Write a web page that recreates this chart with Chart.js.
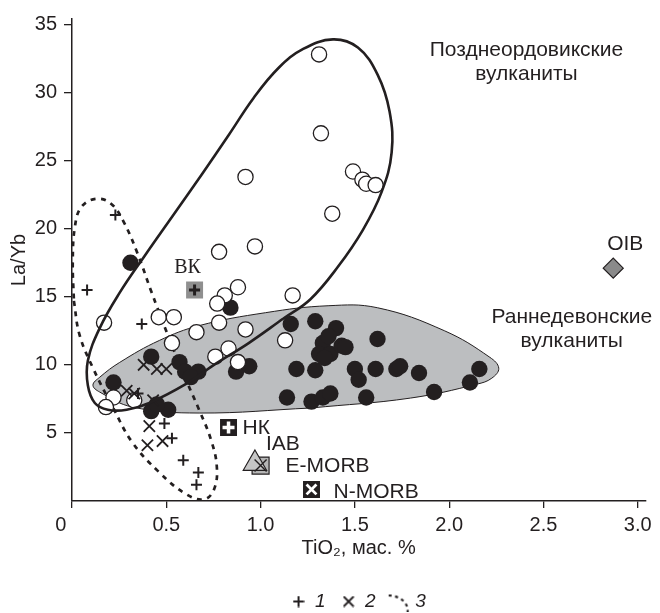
<!DOCTYPE html>
<html>
<head>
<meta charset="utf-8">
<script src="https://cdn.jsdelivr.net/npm/chart.js@4.4.0/dist/chart.umd.min.js"></script>
<style>
  html, body { margin: 0; padding: 0; background: #fff; }
  #wrap { width: 660px; height: 613px; position: relative; }
</style>
</head>
<body>
<div id="wrap"><canvas id="chart"></canvas></div>
<script>
// La/Yb vs TiO2 plot for the volcanics
const ink = '#231f20';

// open circles - Late Ordovician volcanics
const ordTi = [1.31, 1.32, 0.92, 1.49, 1.54, 1.56, 1.61, 1.38, 0.97, 0.78, 0.88, 0.81, 0.77, 1.17,
  0.78, 0.66, 0.46, 0.54, 0.17, 0.53, 0.92, 0.83, 0.76, 0.88, 1.13, 0.22, 0.18, 0.33];
const ordLaYb = [32.8, 27.0, 23.8, 24.2, 23.6, 23.3, 23.2, 21.1, 18.7, 18.3, 15.7, 15.1, 14.5, 15.1,
  13.1, 12.4, 13.5, 13.5, 13.1, 11.6, 12.6, 11.2, 10.6, 10.2, 11.8, 7.6, 6.9, 7.4];

// filled circles - Early Devonian volcanics
const devTi = [0.31, 0.84, 0.42, 0.57, 0.60, 0.67, 0.63, 0.22, 0.42, 0.51, 0.45, 0.87, 0.94, 1.16,
  1.29, 1.40, 1.33, 1.31, 1.37, 1.43, 1.36, 1.19, 1.29, 1.34, 1.62, 1.45, 1.50, 1.52, 1.61, 1.72,
  1.74, 1.84, 1.92, 2.11, 2.16, 1.14, 1.27, 1.33, 1.37, 1.56];
const devLaYb = [17.5, 14.2, 10.6, 10.2, 9.5, 9.5, 9.1, 8.7, 6.6, 6.7, 7.1, 9.5, 9.9, 13.0,
  13.2, 12.7, 11.6, 10.8, 10.8, 11.4, 12.1, 9.7, 9.6, 10.5, 11.9, 11.3, 9.7, 8.9, 9.7, 9.7,
  9.9, 9.4, 8.0, 8.7, 9.7, 7.6, 7.3, 7.6, 7.9, 7.6];

// group 1 (+)
const plusTi = [0.23, 0.08, 0.37, 0.35, 0.49, 0.53, 0.59, 0.67, 0.66];
const plusLaYb = [21.0, 15.5, 13.0, 7.9, 5.7, 4.6, 3.0, 2.1, 1.2];

// group 2 (x)
const xTi = [0.38, 0.45, 0.50, 0.29, 0.33, 0.43, 0.41, 0.40, 0.48];
const xLaYb = [10.0, 9.7, 9.7, 8.1, 7.9, 7.4, 5.5, 4.1, 4.4];

// reference compositions
const refNames = ['ВК', 'НК', 'E-MORB', 'IAB', 'N-MORB', 'OIB'];
const refTi = [0.65, 0.83, 1.0, 0.97, 1.27, 2.87];
const refLaYb = [15.5, 5.4, 2.6, 2.75, 0.85, 17.1];

// field outlines
const ordFieldTi = [1.121, 0.937, 0.753, 0.605, 0.41, 0.29, 0.19, 0.121, 0.084, 0.084, 0.147, 0.253,
  0.384, 0.542, 0.689, 0.832, 0.963, 1.095, 1.226, 1.384, 1.516, 1.621, 1.684, 1.695, 1.642, 1.542,
  1.41, 1.263];
const ordFieldLaYb = [13.4, 11.6, 10.0, 8.6, 7.2, 6.7, 6.7, 7.2, 8.5, 10.3, 12.7, 15.3,
  17.98, 21.1, 24.0, 26.9, 29.6, 31.8, 33.2, 33.9, 33.3, 31.3, 28.6, 25.6, 22.7, 19.9,
  17.2, 14.8];

const devFieldTi = [1.268, 0.674, 0.321, 0.147, 0.111, 0.147, 0.253, 0.463, 0.674, 1.026, 1.358,
  1.621, 1.974, 2.216, 2.263, 2.226, 2.147, 1.795];
const devFieldLaYb = [6.83, 6.46, 6.90, 8.0, 8.51, 9.09, 10.18, 11.79, 12.88, 13.83, 14.34,
  14.19, 12.51, 10.55, 9.75, 9.02, 8.58, 7.56];

const field3Ti = [0.01, 0.04, 0.11, 0.216, 0.32, 0.463, 0.605, 0.70, 0.753, 0.768, 0.737, 0.674,
  0.595, 0.505, 0.42, 0.347, 0.274, 0.21, 0.13, 0.05, 0.016, 0.004];
const field3LaYb = [14.7, 12.2, 9.8, 6.9, 4.3, 2.1, 0.5, 0.12, 0.85, 2.5, 4.5, 6.7,
  9.2, 12.3, 15.4, 18.2, 20.5, 21.8, 22.2, 21.6, 20.2, 17.6];

// axes
const xTicks = [0, 0.5, 1, 1.5, 2, 2.5, 3];
const yTicks = [5, 10, 15, 20, 25, 30, 35];
const legendTexts = ['1', '2', '3'];

const pts = (xs, ys) => xs.map((v, i) => ({ x: v, y: ys[i] }));
const loop = (xs, ys) => { const p = pts(xs, ys); return p.concat([p[0]]); };

Chart.defaults.font.family = "'Liberation Sans', Arial, sans-serif";
Chart.defaults.font.size = 20;
Chart.defaults.color = ink;

// small canvases used as legend symbols
function icon(w, h, draw) {
  const c = document.createElement('canvas');
  c.width = w; c.height = h;
  const g = c.getContext('2d');
  g.strokeStyle = ink;
  draw(g);
  return c;
}
const legendIcons = [
  icon(12, 12, g => { g.lineWidth = 2; g.beginPath(); g.moveTo(6, 0.5); g.lineTo(6, 11.5); g.moveTo(0.5, 6); g.lineTo(11.5, 6); g.stroke(); }),
  icon(12, 12, g => { g.lineWidth = 1.8; g.beginPath(); g.moveTo(1, 1); g.lineTo(11, 11); g.moveTo(11, 1); g.lineTo(1, 11); g.stroke(); }),
  icon(26, 20, g => { g.lineWidth = 2.2; g.setLineDash([3, 3.5]); g.beginPath(); g.ellipse(3, 19, 19, 15, 0, -Math.PI / 2, 0.15); g.stroke(); })
];

// marker looks for the reference compositions
const refStyle = ['rect', 'rect', 'rect', 'triangle', 'rect', 'rectRot'];
const refFill = ['#8f8f8f', ink, '#b5b5b5', '#c6c6c6', ink, '#8a8a8a'];
const refEdge = ['#8f8f8f', ink, ink, ink, ink, ink];
const refEdgeW = [0, 0, 1.2, 1.2, 0, 1.2];
const refSize = [12, 12, 12, 13.5, 12, 10];
const glyphStyle = ['cross', 'cross', 'crossRot', 'circle', 'crossRot', 'circle'];
const glyphColor = [ink, '#fff', ink, ink, '#fff', ink];
const glyphSize = [5.5, 6, 8.5, 0, 7, 0];
const glyphW = [3, 3.5, 1.4, 0, 2.8, 0];

// label placement relative to each marker: dx, dy, align, font
const sans21 = "21px 'Liberation Sans', Arial, sans-serif";
const refLabelPos = [
  [-7, -22, 'center', "20px 'Liberation Serif', 'Times New Roman', serif"],
  [14, 1, 'left', sans21],
  [25, 1, 'left', sans21],
  [11, -19, 'left', sans21],
  [22, 3, 'left', sans21],
  [12, -24, 'center', sans21]
];

const fieldNotes = [
  { x: 2.41, y: 33.1, lines: ['Позднеордовикские', 'вулканиты'] },
  { x: 2.65, y: 13.5, lines: ['Раннедевонские', 'вулканиты'] }
];

const notes = {
  id: 'notes',
  afterDatasetsDraw(chart) {
    const { ctx, scales: { x, y } } = chart;
    ctx.save();
    ctx.fillStyle = ink;
    ctx.textBaseline = 'middle';
    refNames.forEach((name, i) => {
      const [dx, dy, align, font] = refLabelPos[i];
      ctx.font = font;
      ctx.textAlign = align;
      ctx.fillText(name, x.getPixelForValue(refTi[i]) + dx, y.getPixelForValue(refLaYb[i]) + dy);
    });
    ctx.font = sans21;
    ctx.textAlign = 'center';
    fieldNotes.forEach(n => {
      n.lines.forEach((t, k) => {
        ctx.fillText(t, x.getPixelForValue(n.x), y.getPixelForValue(n.y) + k * 24);
      });
    });
    ctx.restore();
  }
};

new Chart(document.getElementById('chart'), {
  type: 'scatter',
  data: {
    datasets: [
      {
        label: 'devField',
        data: loop(devFieldTi, devFieldLaYb),
        showLine: true, tension: 0.4, pointRadius: 0,
        borderColor: ink, borderWidth: 1,
        backgroundColor: '#bcbec0', fill: 'shape',
        order: 10
      },
      {
        label: 'field3',
        data: loop(field3Ti, field3LaYb),
        showLine: true, tension: 0.4, pointRadius: 0,
        borderColor: ink, borderWidth: 2.7, borderDash: [5, 5.5],
        fill: false,
        order: 9
      },
      {
        label: 'dev',
        data: pts(devTi, devLaYb),
        pointStyle: 'circle', pointRadius: 8.2,
        pointBackgroundColor: ink, pointBorderColor: ink, pointBorderWidth: 0,
        order: 6
      },
      {
        label: 'ord',
        data: pts(ordTi, ordLaYb),
        pointStyle: 'circle', pointRadius: 7.6,
        pointBackgroundColor: '#fff', pointBorderColor: ink, pointBorderWidth: 1.3,
        order: 5
      },
      {
        label: '1',
        data: pts(plusTi, plusLaYb),
        pointStyle: 'cross', pointRadius: 5.5,
        pointBorderColor: ink, pointBorderWidth: 2,
        order: 4
      },
      {
        label: '2',
        data: pts(xTi, xLaYb),
        pointStyle: 'crossRot', pointRadius: 8,
        pointBorderColor: ink, pointBorderWidth: 1.8,
        order: 4
      },
      {
        label: 'ordField',
        data: loop(ordFieldTi, ordFieldLaYb),
        showLine: true, tension: 0.4, pointRadius: 0,
        borderColor: ink, borderWidth: 2.6,
        fill: false,
        order: 3
      },
      {
        label: 'refs',
        data: pts(refTi, refLaYb),
        pointStyle: refStyle, pointRadius: refSize,
        pointBackgroundColor: refFill, pointBorderColor: refEdge, pointBorderWidth: refEdgeW,
        order: 2
      },
      {
        label: 'refGlyphs',
        data: pts(refTi, refLaYb),
        pointStyle: glyphStyle, pointRadius: glyphSize,
        pointBackgroundColor: glyphColor, pointBorderColor: glyphColor, pointBorderWidth: glyphW,
        order: 1
      }
    ]
  },
  options: {
    responsive: true,
    maintainAspectRatio: false,
    animation: false,
    events: [],
    layout: { padding: { left: 0, right: 10, top: 15, bottom: 0 } },
    scales: {
      x: {
        type: 'linear', min: 0, max: 3.04,
        afterBuildTicks: s => { s.ticks = xTicks.map(v => ({ value: v })); },
        afterFit: s => { s.height = 75; },
        ticks: {
          autoSkip: false, maxRotation: 0, padding: 5,
          callback: v => (v === 0 ? '0    ' : v.toFixed(1))
        },
        grid: { drawOnChartArea: false, drawTicks: true, tickLength: 7, color: ink, lineWidth: 1.3 },
        border: { display: true, color: ink, width: 1.5 },
        title: { display: true, text: 'TiO\u2082, мас. %', padding: { top: 0, bottom: 16 } }
      },
      y: {
        type: 'linear', min: 0, max: 35.4,
        afterBuildTicks: s => { s.ticks = yTicks.map(v => ({ value: v })); },
        afterFit: s => { s.width = 72; },
        ticks: { padding: 7 },
        grid: { drawOnChartArea: false, drawTicks: true, tickLength: 8, color: ink, lineWidth: 1.3 },
        border: { display: true, color: ink, width: 1.5 },
        title: { display: true, text: 'La/Yb', padding: { top: 7, bottom: 0 } }
      }
    },
    plugins: {
      tooltip: { enabled: false },
      legend: {
        position: 'bottom',
        fullSize: false,
        maxHeight: 37,
        labels: {
          usePointStyle: true,
          pointStyleWidth: 14,
          padding: 16,
          color: ink,
          font: { size: 19, style: 'italic' },
          generateLabels: () => legendTexts.map((t, i) => ({
            text: t, pointStyle: legendIcons[i],
            fillStyle: 'transparent', strokeStyle: 'transparent', lineWidth: 0,
            fontColor: ink, hidden: false
          }))
        }
      }
    }
  },
  plugins: [notes]
});
</script>
</body>
</html>
